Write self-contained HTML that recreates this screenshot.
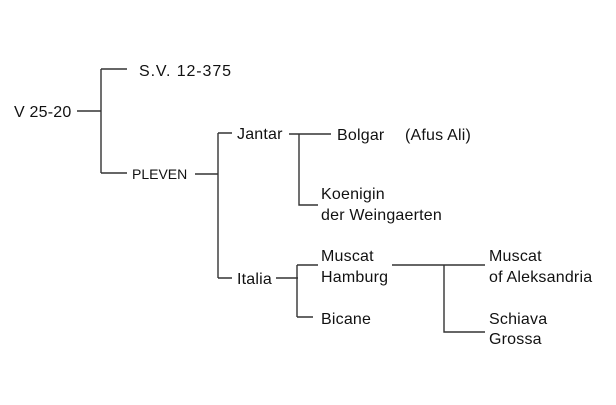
<!DOCTYPE html>
<html><head><style>
body{margin:0;width:616px;height:400px;background:#fff;overflow:hidden}
svg text{font-family:"Liberation Sans",Arial,sans-serif;font-size:16px;fill:#111;letter-spacing:0.2px}
</style></head><body>
<svg width="616" height="400" xmlns="http://www.w3.org/2000/svg">
<g stroke="#333" stroke-width="1.4" fill="none">
<path d="M77 111H101M101 69V173M101 69H127M101 173H127"/>
<path d="M195 174H218M218 133V278M218 133H232M218 278H232"/>
<path d="M289 134H331M299 134V205H318"/>
<path d="M276 278H298M297 265V317M297 265H318M297 317H313"/>
<path d="M392 265H485M444 265V332H485"/>
</g>
<text x="14" y="117">V 25-20</text>
<text x="139" y="76" style="letter-spacing:0.9px">S.V. 12-375</text>
<text x="132" y="179" style="font-size:14px;letter-spacing:0">PLEVEN</text>
<text x="237" y="139">Jantar</text>
<text x="337" y="140">Bolgar</text>
<text x="405" y="140">(Afus Ali)</text>
<text x="321" y="199">Koenigin</text>
<text x="321" y="220">der Weingaerten</text>
<text x="237" y="284">Italia</text>
<text x="321" y="261">Muscat</text>
<text x="321" y="282">Hamburg</text>
<text x="321" y="324">Bicane</text>
<text x="489" y="261">Muscat</text>
<text x="489" y="282">of Aleksandria</text>
<text x="489" y="324">Schiava</text>
<text x="489" y="344">Grossa</text>
</svg>
</body></html>
